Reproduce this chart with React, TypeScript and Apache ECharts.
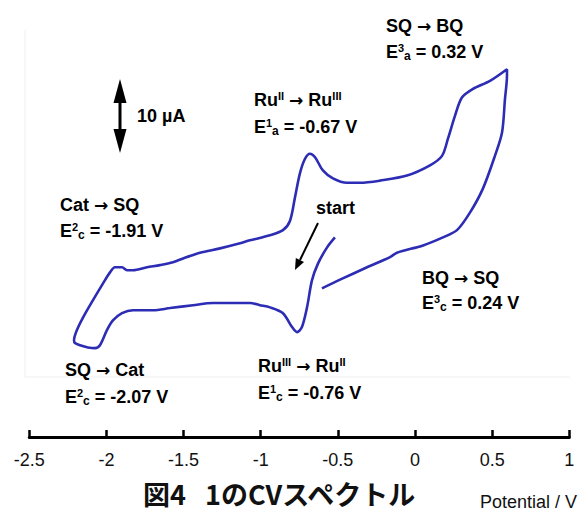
import React, { useEffect, useRef } from "react";
import * as echarts from "echarts";

// Potential (V) and current (µA, arbitrary offset), in scan order
const potential: number[] = [
  -0.519, -0.571, -0.629, -0.668, -0.700, -0.733, -0.765, -0.797, -0.856, -0.940,
  -1.005, -1.070, -1.180, -1.309, -1.439, -1.588, -1.698, -1.828, -1.899, -1.958,
  -1.996, -2.042, -2.074, -2.120, -2.171, -2.204, -2.210,
  -2.191, -2.152, -2.087, -2.022, -1.977, -1.945, -1.899, -1.867, -1.828, -1.737,
  -1.653, -1.569, -1.478, -1.394, -1.264, -1.134, -1.070, -0.940, -0.856, -0.810,
  -0.778, -0.746, -0.713, -0.681, -0.648, -0.597, -0.532, -0.441, -0.357, -0.227,
  -0.052, 0.097, 0.175, 0.214, 0.259, 0.304, 0.376, 0.486, 0.596,
  0.596, 0.583, 0.564, 0.518, 0.440, 0.356, 0.272, 0.181, 0.052, -0.117, -0.162,
  -0.311, -0.486, -0.603,
];
const current: number[] = [
  27.4, 26.0, 23.8, 21.5, 17.8, 15.1, 14.4, 15.1, 17.0, 17.8,
  18.1, 18.4, 18.4, 18.4, 18.1, 17.7, 17.4, 17.4, 17.0, 16.0,
  14.7, 12.6, 12.2, 12.3, 12.6, 12.9, 13.3,
  14.7, 16.4, 18.8, 21.1, 22.6, 23.3, 23.3, 22.9, 22.9, 23.3,
  23.6, 24.0, 24.7, 25.3, 25.9, 26.6, 27.0, 27.7, 28.4, 29.7,
  32.9, 36.2, 38.2, 38.9, 38.4, 36.6, 35.5, 34.9, 34.9, 35.2,
  35.9, 37.3, 38.6, 41.0, 44.1, 46.6, 47.8, 48.9, 50.5,
  49.6, 46.4, 41.8, 38.6, 34.1, 30.8, 28.4, 27.4, 26.3, 25.3, 24.7,
  23.3, 21.6, 20.4,
];

const xTicks = { min: -2.5, max: 1, interval: 0.5 };
const titleHead = "図4";
const titleTail = "1のCVスペクトル";
const axisName = "Potential / V";

const FONT = "Liberation Sans, Arial, Helvetica, sans-serif";

const rich = {
  b: { fontSize: 18, fontWeight: "bold", fontFamily: FONT, color: "#111", lineHeight: 20, verticalAlign: "middle" },
  arr: { fontSize: 17, fontWeight: "bold", fontFamily: "DejaVu Sans", color: "#111", lineHeight: 20, verticalAlign: "middle" },
  sup: { fontSize: 11, fontWeight: "bold", fontFamily: FONT, color: "#111", lineHeight: 12, verticalAlign: "top" },
  sub: { fontSize: 12, fontWeight: "bold", fontFamily: FONT, color: "#111", lineHeight: 8, verticalAlign: "bottom" },
};

function label(x: number, y: number, text: string) {
  return {
    type: "text",
    x,
    y,
    silent: true,
    style: { text, rich, align: "left", verticalAlign: "middle" },
  };
}

export default function App() {
  const ref = useRef<HTMLDivElement>(null);
  useEffect(() => {
    if (!ref.current) return;
    const chart = echarts.init(ref.current, undefined, { renderer: "svg" });
    const data = potential.map((v, i) => [v, current[i]]);
    chart.setOption({
      animation: false,
      backgroundColor: "#ffffff",
      grid: { left: 29.3, right: 9.7, top: 0, bottom: 76 },
      xAxis: {
        type: "value",
        min: xTicks.min,
        max: xTicks.max,
        interval: xTicks.interval,
        splitLine: { show: false },
        axisLine: { lineStyle: { color: "#000", width: 3 } },
        axisTick: { inside: true, length: 7, lineStyle: { color: "#000", width: 2.5 } },
        axisLabel: { fontSize: 18, color: "#111", fontFamily: FONT, margin: 14 },
      },
      yAxis: { type: "value", min: 0, max: 60, show: false },
      series: [
        {
          type: "line",
          data,
          smooth: 0.3,
          showSymbol: false,
          lineStyle: { color: "#2c2cb4", width: 2.6 },
        },
      ],
      graphic: [
        // faint frame remnants
        { type: "line", silent: true, shape: { x1: 25, y1: 30, x2: 25, y2: 377 }, style: { stroke: "#efefef", lineWidth: 1 } },
        { type: "line", silent: true, shape: { x1: 25, y1: 377, x2: 570, y2: 377 }, style: { stroke: "#efefef", lineWidth: 1 } },
        // scale bar
        { type: "line", silent: true, shape: { x1: 120, y1: 98, x2: 120, y2: 134 }, style: { stroke: "#000", lineWidth: 3 } },
        { type: "polygon", silent: true, shape: { points: [[120, 79], [113.5, 103], [126.5, 103]] }, style: { fill: "#000" } },
        { type: "polygon", silent: true, shape: { points: [[120, 153], [113.5, 129], [126.5, 129]] }, style: { fill: "#000" } },
        label(137, 116, "{b|10 µA}"),
        // start arrow
        { type: "line", silent: true, shape: { x1: 318, y1: 223, x2: 300, y2: 260 }, style: { stroke: "#000", lineWidth: 2 } },
        { type: "polygon", silent: true, shape: { points: [[295, 270], [304, 262], [295.8, 258]] }, style: { fill: "#000" } },
        label(316, 208, "{b|start}"),
        // annotations
        label(386, 26, "{b|SQ }{arr|→}{b| BQ}"),
        label(386, 52, "{b|E}{sup|3}{sub|a}{b| = 0.32 V}"),
        label(254, 100, "{b|Ru}{sup|II}{b| }{arr|→}{b| Ru}{sup|III}"),
        label(254, 127, "{b|E}{sup|1}{sub|a}{b| = -0.67 V}"),
        label(60, 205, "{b|Cat }{arr|→}{b| SQ}"),
        label(60, 231, "{b|E}{sup|2}{sub|c}{b| = -1.91 V}"),
        label(422, 278, "{b|BQ }{arr|→}{b| SQ}"),
        label(422, 303, "{b|E}{sup|3}{sub|c}{b| = 0.24 V}"),
        label(65, 370, "{b|SQ }{arr|→}{b| Cat}"),
        label(65, 397, "{b|E}{sup|2}{sub|c}{b| = -2.07 V}"),
        label(258, 366, "{b|Ru}{sup|III}{b| }{arr|→}{b| Ru}{sup|II}"),
        label(258, 393, "{b|E}{sup|1}{sub|c}{b| = -0.76 V}"),
        // title (two parts, as spaced in the picture) and axis name
        {
          type: "text",
          silent: true,
          x: 143,
          y: 493.5,
          style: {
            text: titleHead,
            align: "left",
            verticalAlign: "middle",
            fontSize: 27,
            fontWeight: "bold",
            fontFamily: "Noto Sans CJK JP",
            fill: "#111",
          },
        },
        {
          type: "text",
          silent: true,
          x: 205,
          y: 493.5,
          style: {
            text: titleTail,
            align: "left",
            verticalAlign: "middle",
            fontSize: 27,
            fontWeight: "bold",
            fontFamily: "Noto Sans CJK JP",
            fill: "#111",
          },
        },
        {
          type: "text",
          silent: true,
          x: 480,
          y: 502,
          style: { text: axisName, align: "left", verticalAlign: "middle", fontSize: 18, fontFamily: FONT, fill: "#111" },
        },
      ],
    });
    return () => chart.dispose();
  }, []);
  return <div ref={ref} style={{ width: 579, height: 513, position: "absolute", left: 0, top: 0 }} />;
}
